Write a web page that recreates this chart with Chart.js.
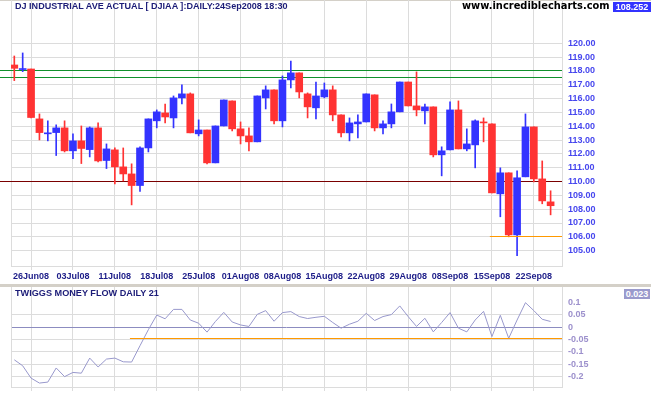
<!DOCTYPE html>
<html lang="en">
<head>
<meta charset="UTF-8">
<title>DJIAA daily</title>
<script src="https://cdn.jsdelivr.net/npm/chart.js@4.4.1/dist/chart.umd.min.js"></script>
<style>
	body { margin: 0; background: #fff; }
	#wrap { position: relative; width: 651px; height: 395px; overflow: hidden; background: #fff; }
	canvas { position: absolute; left: 0; }
	.txt { position: absolute; white-space: nowrap; font-family: "Liberation Sans", Arial, sans-serif; font-weight: bold; line-height: 1; }
	.badge { position: absolute; color: #fff; font-family: "Liberation Sans", Arial, sans-serif; font-weight: bold; font-size: 9px; text-align: center; }
</style>
</head>
<body>
<div id="wrap">
	<div style="position:absolute;left:0;top:0;width:651px;height:1px;background:#d4d0c8"></div>
	<canvas id="main" width="651" height="285" style="top:0"></canvas>
	<div style="position:absolute;left:0;top:284px;width:651px;height:3px;background:#d4d0c8"></div>
	<canvas id="flow" width="651" height="108" style="top:287px"></canvas>

	<div class="txt" id="title" data-w="273" style="left:15px;top:2px;font-size:9px;color:#1c1c78">DJ INDUSTRIAL AVE ACTUAL [ DJIAA ]:DAILY:24Sep2008 18:30</div>
	<div class="txt" id="site" data-w="148" style="left:462px;top:1px;font-size:11px;color:#000;font-family:Verdana,'DejaVu Sans',sans-serif">www.incrediblecharts.com</div>
	<div class="badge" style="left:613px;top:2px;width:38px;height:10px;line-height:10px;background:#3333ff">108.252</div>
	<div class="txt" id="flowTitle" data-w="144" style="left:15px;top:289px;font-size:9px;color:#1c1c78">TWIGGS MONEY FLOW DAILY 21</div>
	<div class="badge" style="left:624px;top:289px;width:26px;height:10px;line-height:10px;background:#9a9acc">0.023</div>
</div>

<script>
	// trading days shown, one candle each
	const days = ['24Jun08', '25Jun08', '26Jun08', '27Jun08', '30Jun08',
		'01Jul08', '02Jul08', '03Jul08', '07Jul08', '08Jul08', '09Jul08', '10Jul08', '11Jul08',
		'14Jul08', '15Jul08', '16Jul08', '17Jul08', '18Jul08', '21Jul08', '22Jul08', '23Jul08',
		'24Jul08', '25Jul08', '28Jul08', '29Jul08', '30Jul08', '31Jul08',
		'01Aug08', '04Aug08', '05Aug08', '06Aug08', '07Aug08', '08Aug08', '11Aug08', '12Aug08',
		'13Aug08', '14Aug08', '15Aug08', '18Aug08', '19Aug08', '20Aug08', '21Aug08', '22Aug08',
		'25Aug08', '26Aug08', '27Aug08', '28Aug08', '29Aug08',
		'02Sep08', '03Sep08', '04Sep08', '05Sep08', '08Sep08', '09Sep08', '10Sep08', '11Sep08',
		'12Sep08', '15Sep08', '16Sep08', '17Sep08', '18Sep08', '19Sep08', '22Sep08', '23Sep08', '24Sep08'];

	const tickDays = ['26Jun08', '03Jul08', '11Jul08', '18Jul08', '25Jul08', '01Aug08', '08Aug08',
		'15Aug08', '22Aug08', '29Aug08', '08Sep08', '15Sep08', '22Sep08'];

	const open = [118.43, 118.10, 118.14, 114.53, 113.45, 113.54, 113.88, 112.22, 112.94, 112.31,
		113.88, 111.52, 112.29, 111.06, 110.55, 109.71, 112.43, 114.39, 114.96, 114.60,
		116.05, 116.34, 113.45, 113.73, 111.35, 114.02, 115.83, 113.81, 113.30, 112.87,
		116.05, 116.63, 114.39, 117.35, 117.86, 116.34, 115.33, 116.12, 116.63, 114.82,
		113.52, 114.17, 114.31, 116.27, 113.88, 114.17, 115.04, 117.20, 115.47, 115.11,
		115.40, 111.93, 112.29, 115.18, 112.36, 112.65, 114.31, 114.17, 109.11, 110.63,
		106.14, 110.34, 113.95, 110.19, 108.53];
	const high = [119.08, 119.30, 118.14, 114.89, 114.39, 114.10, 114.39, 113.45, 114.02, 113.95,
		114.24, 112.72, 112.43, 112.43, 111.28, 112.51, 114.53, 115.18, 115.61, 116.19,
		116.99, 116.41, 114.46, 113.73, 114.02, 115.90, 115.83, 114.31, 113.88, 116.19,
		116.92, 116.63, 117.64, 118.72, 117.86, 116.41, 117.20, 117.13, 116.92, 114.82,
		114.60, 114.82, 116.34, 116.27, 114.39, 115.61, 117.20, 117.20, 117.93, 115.61,
		115.40, 112.51, 115.76, 115.83, 113.81, 114.46, 114.60, 114.17, 110.99, 110.63,
		110.77, 114.89, 113.95, 111.49, 109.33];
	const low = [117.30, 117.95, 114.60, 113.01, 112.94, 111.88, 112.14, 111.66, 111.30, 111.78,
		111.42, 110.94, 109.83, 110.05, 108.31, 109.28, 112.14, 113.88, 114.24, 113.88,
		115.61, 113.52, 113.30, 111.28, 111.35, 114.02, 113.66, 112.72, 112.22, 112.87,
		115.25, 114.17, 113.95, 116.77, 116.05, 114.60, 114.53, 116.05, 114.39, 113.23,
		112.94, 113.16, 114.31, 113.66, 113.45, 113.88, 115.04, 115.47, 114.75, 114.17,
		111.78, 110.41, 112.29, 112.36, 112.22, 110.99, 112.87, 109.18, 107.45, 106.00,
		104.63, 110.34, 109.98, 108.39, 107.59];
	const close = [118.19, 118.17, 114.63, 113.54, 113.52, 113.88, 112.22, 112.94, 112.39, 113.88,
		111.49, 112.36, 111.06, 110.55, 109.71, 112.43, 114.53, 115.04, 114.67, 116.05,
		116.34, 113.52, 113.73, 111.35, 114.02, 115.90, 113.81, 113.30, 112.87, 116.19,
		116.63, 114.39, 117.35, 117.86, 116.48, 115.40, 116.19, 116.63, 114.82, 113.52,
		114.24, 114.31, 116.34, 113.88, 114.17, 115.04, 117.20, 115.47, 115.18, 115.40,
		111.93, 112.22, 115.18, 112.36, 112.72, 114.39, 114.24, 109.18, 110.63, 106.14,
		110.27, 113.95, 110.19, 108.60, 108.25];

	// Twiggs money flow (21 day)
	const moneyFlow = [-0.132, -0.156, -0.206, -0.226, -0.222, -0.165, -0.200, -0.183, -0.186, -0.125,
		-0.161, -0.129, -0.125, -0.140, -0.141, -0.075, -0.010, 0.049, 0.034, 0.072,
		0.072, 0.029, 0.016, -0.020, 0.023, 0.060, 0.021, 0.009, 0.003, 0.052,
		0.067, 0.024, 0.059, 0.063, 0.043, 0.035, 0.040, 0.044, 0.019, -0.004,
		0.012, 0.024, 0.056, 0.027, 0.043, 0.051, 0.086, 0.043, 0.003, 0.036,
		-0.019, 0.019, 0.059, -0.004, -0.019, 0.029, 0.064, -0.038, 0.048, -0.045,
		0.029, 0.099, 0.067, 0.032, 0.023];

	const priceTicks = [105, 106, 107, 108, 109, 110, 111, 112, 113, 114, 115, 116, 117, 118, 119, 120];
	const flowTicks = [0.1, 0.05, 0, -0.05, -0.1, -0.15, -0.2];

	// drawn lines on the charts: resistance (green), support (dark red / orange)
	const priceLevels = [
		{ value: 118, from: null, color: '#10902c' },
		{ value: 117.5, from: null, color: '#10902c' },
		{ value: 110, from: null, color: '#7a0000' },
		{ value: 106, from: 56.75, color: '#ff9900', front: true }
	];
	const flowLevels = [
		{ value: -0.044, from: 13.8, color: '#ff9900', front: true }
	];

	const UP = '#3333ff', DOWN = '#ff3333', GRID = '#dcdcdc';
	const X_MIN = -0.394, X_MAX = 65.36;

	Chart.defaults.font.family = '"Liberation Sans", Arial, sans-serif';
	Chart.defaults.animation = false;

	const candleColor = open.map((o, i) => close[i] >= o ? UP : DOWN);
	const tickIdx = tickDays.map(d => days.indexOf(d));

	// no automatic label padding, the plot area is fixed by layout.padding + afterFit
	function noPad(s) {
		s.paddingTop = 0; s.paddingBottom = 0; s.paddingLeft = 0; s.paddingRight = 0;
	}

	function drawLevels(chart, lines, front) {
		const { ctx, chartArea, scales } = chart;
		ctx.save();
		ctx.lineWidth = 1;
		lines.filter(l => !!l.front === front).forEach(l => {
			// same pixel snapping as the grid lines, so a level on a grid value covers it
			const y = Math.round(scales.y.getPixelForValue(l.value) - 0.5) + 0.5;
			const x0 = l.from == null ? 0 : scales.x.getPixelForValue(l.from);
			ctx.strokeStyle = l.color;
			ctx.beginPath();
			ctx.moveTo(x0, y);
			ctx.lineTo(chartArea.right, y);
			ctx.stroke();
		});
		ctx.restore();
	}

	// per chart plugin: panel left edge + level lines
	function levelLines(lines) {
		return {
			id: 'levelLines',
			beforeDatasetsDraw(chart) {
				const { ctx, chartArea } = chart;
				ctx.save();
				ctx.strokeStyle = GRID;
				ctx.lineWidth = 1;
				ctx.beginPath();
				ctx.moveTo(chartArea.left + 0.5, chartArea.top);
				ctx.lineTo(chartArea.left + 0.5, chartArea.bottom);
				ctx.stroke();
				ctx.restore();
				drawLevels(chart, lines, false);
			},
			afterDatasetsDraw(chart) {
				drawLevels(chart, lines, true);
			}
		};
	}

	function xScale(showLabels, height) {
		return {
			type: 'linear',
			offset: false,
			min: X_MIN,
			max: X_MAX,
			afterBuildTicks: s => { s.ticks = tickIdx.map(v => ({ value: v })); },
			afterFit: s => { s.height = height; noPad(s); },
			grid: { color: GRID, tickLength: 4, drawTicks: true, offset: false },
			border: { color: GRID },
			ticks: {
				display: showLabels,
				autoSkip: false,
				maxRotation: 0,
				padding: 1,
				color: '#1c1c88',
				font: { size: 9, weight: 'bold' },
				callback: v => days[v]
			}
		};
	}

	new Chart(document.getElementById('main'), {
		type: 'bar',
		data: {
			datasets: [{
				label: 'body',
				order: 0,
				grouped: false,
				barThickness: 7,
				minBarLength: 1,
				backgroundColor: candleColor,
				data: open.map((o, i) => ({ x: i, y: [o, close[i]] }))
			}, {
				label: 'range',
				order: 1,
				grouped: false,
				barThickness: 1,
				backgroundColor: candleColor,
				data: low.map((l, i) => ({ x: i, y: [l, high[i]] }))
			}]
		},
		options: {
			responsive: false,
			layout: { padding: { left: 11, top: 0, right: 0, bottom: 0 } },
			plugins: {
				legend: { display: false },
				tooltip: { enabled: false }
			},
			scales: {
				x: xScale(true, 19),
				y: {
					position: 'right',
					min: 103.89,
					max: 123.13,
					afterBuildTicks: s => { s.ticks = priceTicks.map(v => ({ value: v })); },
					afterFit: s => { s.width = 89; noPad(s); },
					grid: { color: GRID, drawTicks: false },
					border: { color: GRID },
					ticks: {
						padding: 6,
						color: '#4646ee',
						font: { size: 9, weight: 'bold' },
						callback: v => v.toFixed(2)
					}
				}
			}
		},
		plugins: [levelLines(priceLevels)]
	});

	new Chart(document.getElementById('flow'), {
		type: 'line',
		data: {
			datasets: [{
				label: 'Twiggs Money Flow',
				data: moneyFlow.map((v, i) => ({ x: i, y: v })),
				borderColor: '#9898cc',
				borderWidth: 1,
				pointRadius: 0,
				tension: 0
			}]
		},
		options: {
			responsive: false,
			layout: { padding: { left: 11, top: 0, right: 0, bottom: 0 } },
			plugins: {
				legend: { display: false },
				tooltip: { enabled: false }
			},
			scales: {
				x: xScale(false, 8),
				y: {
					position: 'right',
					min: -0.2419,
					max: 0.1625,
					afterBuildTicks: s => { s.ticks = flowTicks.map(v => ({ value: v })); },
					afterFit: s => { s.width = 89; noPad(s); },
					grid: {
						drawTicks: false,
						color: c => c.tick.value === 0 ? '#8c8cc0' : (c.tick.value > 0.09 ? 'rgba(0,0,0,0)' : GRID)
					},
					border: { color: GRID },
					ticks: {
						padding: 6,
						color: '#9c90cc',
						font: { size: 9, weight: 'bold' },
						callback: v => String(Number(v.toFixed(2)))
					}
				}
			}
		},
		plugins: [levelLines(flowLevels)]
	});

	// size header texts to the widths they take in the original
	document.querySelectorAll('.txt[data-w]').forEach(el => {
		const w = el.getBoundingClientRect().width;
		const fs = parseFloat(getComputedStyle(el).fontSize);
		el.style.fontSize = (fs * el.dataset.w / w) + 'px';
	});
</script>
</body>
</html>
